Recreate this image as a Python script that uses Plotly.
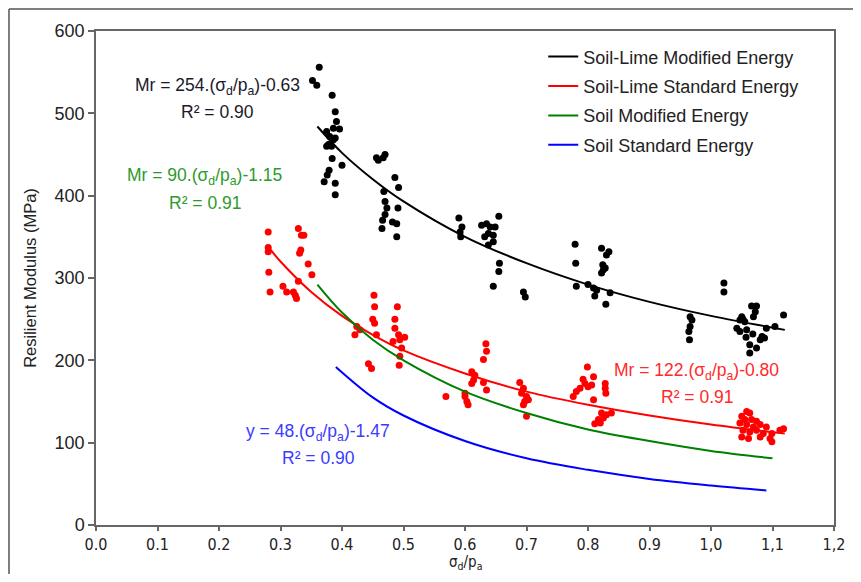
import plotly.graph_objects as go

# ---------------- data ----------------
# Soil-Lime Modified Energy (black points)
slm_x = [0.363, 0.352, 0.359, 0.384, 0.389, 0.391, 0.396, 0.386, 0.375, 0.380, 0.389, 0.386,
         0.378, 0.383, 0.375, 0.384, 0.400, 0.379, 0.376, 0.371, 0.389, 0.389,
         0.459, 0.470, 0.467, 0.456, 0.486, 0.468, 0.470, 0.473, 0.470, 0.466, 0.482, 0.489,
         0.465, 0.489, 0.492, 0.491,
         0.595, 0.593, 0.590, 0.592,
         0.627, 0.635, 0.641, 0.649, 0.638, 0.646, 0.632, 0.646, 0.638, 0.656, 0.655, 0.646,
         0.655, 0.695, 0.698,
         0.779, 0.780, 0.781, 0.800, 0.809, 0.811, 0.814, 0.829, 0.836, 0.822, 0.834, 0.830,
         0.824, 0.825, 0.828, 0.822,
         0.966, 0.969, 0.966, 0.964, 0.965, 1.021, 1.021,
         1.066, 1.074, 1.072, 1.069, 1.050, 1.052, 1.055, 1.047, 1.042, 1.047, 1.058, 1.090,
         1.057, 1.068, 1.083, 1.087, 1.063, 1.074, 1.063, 1.104, 1.118, 1.080]
slm_y = [556, 540, 534, 522, 502, 490, 481, 482, 478, 472, 470, 468,
         462, 460, 460, 445, 437, 431, 425, 417, 415, 401,
         443, 450, 446, 446, 422, 405, 393, 385, 377, 370, 368, 366,
         360, 350, 410, 385,
         362, 350, 373, 356,
         364, 366, 362, 362, 354, 352, 350, 344, 340, 318, 308, 290,
         375, 283, 277,
         341, 318, 290, 292, 288, 278, 285, 268, 282, 336, 332, 328,
         316, 310, 312, 306,
         253, 249, 241, 235, 225, 294, 283,
         266, 266, 259, 253, 253, 250, 247, 249, 239, 235, 237, 239,
         228, 232, 229, 227, 219, 215, 209, 241, 255, 225]

# Soil-Lime Standard Energy (red points)
sls_x = [0.280, 0.280, 0.281, 0.280, 0.283, 0.329, 0.334, 0.338, 0.333, 0.331, 0.345, 0.351,
         0.304, 0.310, 0.321, 0.326, 0.324, 0.329,
         0.424, 0.421, 0.429, 0.443, 0.448, 0.452, 0.453, 0.450, 0.453, 0.456,
         0.490, 0.486, 0.486, 0.492, 0.502, 0.494, 0.483, 0.497, 0.494, 0.493,
         0.569, 0.600, 0.600, 0.603, 0.605, 0.611, 0.616, 0.614, 0.611, 0.630, 0.635,
         0.634, 0.635, 0.630,
         0.689, 0.695, 0.692, 0.700, 0.697, 0.695, 0.703, 0.700,
         0.799, 0.792, 0.795, 0.809, 0.806, 0.800, 0.787, 0.781, 0.776, 0.828, 0.828, 0.829,
         0.809, 0.822, 0.830, 0.838, 0.817, 0.825, 0.811, 0.820,
         1.058, 1.063, 1.050, 1.055, 1.066, 1.074, 1.047, 1.058, 1.069, 1.080, 1.052, 1.063,
         1.074, 1.085, 1.050, 1.061, 1.080, 1.096, 1.112, 1.118, 1.099, 1.090, 1.099]
sls_y = [356, 337, 307, 332, 283, 360, 352, 352, 334, 330, 317, 304,
         290, 283, 283, 275, 279, 296,
         241, 231, 237, 196, 190, 279, 265, 250, 245, 231,
         265, 250, 239, 231, 228, 225, 223, 215, 205, 194,
         156, 160, 156, 150, 146, 186, 182, 176, 172, 173, 164,
         220, 211, 201,
         173, 166, 160, 156, 150, 146, 152, 132,
         192, 177, 172, 180, 170, 168, 166, 162, 156, 172, 166, 160,
         152, 136, 134, 136, 128, 130, 123, 124,
         138, 136, 132, 128, 128, 126, 124, 122, 119, 122, 115, 113,
         115, 111, 107, 105, 107, 105, 115, 117, 111, 119, 101]

# Trend lines
slm_fit_x = [0.36, 0.40, 0.45, 0.50, 0.60, 0.70, 0.80, 0.90, 1.00, 1.12]
slm_fit_y = [484, 452, 420, 393, 350, 318, 292, 271, 254, 237]

sls_fit_x = [0.28, 0.30, 0.35, 0.40, 0.45, 0.50, 0.60, 0.70, 0.80, 0.90, 1.00, 1.12]
sls_fit_y = [338, 320, 283, 254, 231, 212, 184, 162, 146, 133, 122, 111]

sm_fit_x = [0.36, 0.40, 0.45, 0.50, 0.60, 0.70, 0.80, 0.90, 1.00, 1.10]
sm_fit_y = [292, 258, 225, 200, 162, 136, 116, 102, 90, 81]

ss_fit_x = [0.39, 0.45, 0.50, 0.60, 0.70, 0.80, 0.90, 1.00, 1.09]
ss_fit_y = [192, 155, 133, 102, 81, 67, 56, 48, 42]

series_names = ["Soil-Lime Modified Energy", "Soil-Lime Standard Energy",
                "Soil Modified Energy", "Soil Standard Energy"]

x_tickvals = [0.0, 0.1, 0.2, 0.3, 0.4, 0.5, 0.6, 0.7, 0.8, 0.9, 1.0, 1.1, 1.2]
x_ticktext = ["0.0", "0.1", "0.2", "0.3", "0.4", "0.5", "0.6", "0.7", "0.8", "0.9",
              "1,0", "1,1", "1,2"]
y_tickvals = [0, 100, 200, 300, 400, 500, 600]

# ---------------- figure ----------------
FONT = "Liberation Sans, Arial, sans-serif"
NARROW = "Liberation Sans Narrow, DejaVu Sans Condensed, Arial Narrow, sans-serif"

fig = go.Figure()

fig.add_trace(go.Scatter(x=slm_x, y=slm_y, mode="markers", showlegend=False,
                         marker=dict(color="black", size=7, symbol="circle")))
fig.add_trace(go.Scatter(x=sls_x, y=sls_y, mode="markers", showlegend=False,
                         marker=dict(color="#ff0000", size=7, symbol="circle")))

line_sets = [(slm_fit_x, slm_fit_y, "black"),
             (sls_fit_x, sls_fit_y, "#ff0000"),
             (sm_fit_x, sm_fit_y, "#008000"),
             (ss_fit_x, ss_fit_y, "#0000ff")]
for i, (lx, ly, col) in enumerate(line_sets):
    fig.add_trace(go.Scatter(x=lx, y=ly, mode="lines", name=series_names[i],
                             legendgroup=f"g{i}", line=dict(color=col, width=2, shape="spline")))

def eq(x, y, text, color):
    fig.add_annotation(x=x, y=y, xref="x", yref="y", text=text, showarrow=False,
                       font=dict(family=FONT, size=17.5, color=color), xanchor="center",
                       yanchor="middle")

sig = "(σ<sub>d</sub>/p<sub>a</sub>)"
eq(0.198, 532, "Mr = 254." + sig + "-0.63", "#1a1a2a")
eq(0.198, 502, "R² = 0.90", "#1a1a2a")
eq(0.177, 423, "Mr = 90." + sig + "-1.15", "#2e9a2e")
eq(0.177, 391, "R² = 0.91", "#2e9a2e")
eq(0.977, 186, "Mr = 122." + sig + "-0.80", "#ff2a2a")
eq(0.977, 155, "R² = 0.91", "#ff2a2a")
eq(0.361, 112, "y = 48." + sig + "-1.47", "#3b3bff")
eq(0.361, 81, "R² = 0.90", "#3b3bff")

# x-axis title placed below the tick labels
fig.add_annotation(x=0.5, y=-0.0972, xref="paper", yref="paper", showarrow=False,
                   text="σ<sub>d</sub>/p<sub>a</sub>", xanchor="center", yanchor="bottom",
                   borderpad=0, font=dict(family=NARROW, size=15, color="#222222"))

# outer frame of the picture (top and left edges)
fig.add_shape(type="line", xref="paper", yref="paper", x0=-0.1179, x1=1.1, y0=1.0445, y1=1.0445,
              line=dict(color="#555555", width=1.5))
fig.add_shape(type="line", xref="paper", yref="paper", x0=-0.1179, x1=-0.1179, y0=1.0445, y1=-0.12,
              line=dict(color="#555555", width=1.5))

fig.update_layout(
    width=845, height=566,
    margin=dict(l=88, r=19, t=23, b=49, autoexpand=False),
    paper_bgcolor="white", plot_bgcolor="white",
    font=dict(family=FONT, size=16, color="black"),
    legend=dict(x=0.606, y=0.985, xanchor="left", yanchor="top",
                bgcolor="rgba(0,0,0,0)", borderwidth=0, itemwidth=30,
                tracegroupgap=3, font=dict(family=FONT, size=18, color="#222222")),
    xaxis=dict(range=[0, 1.2], tickvals=x_tickvals, ticktext=x_ticktext,
               showgrid=False, zeroline=False, showline=True, mirror=True, automargin=False,
               linecolor="#666666", linewidth=1.5, ticks="outside", ticklen=4,
               tickcolor="#666666", tickwidth=1.5, ticklabelstandoff=0,
               tickfont=dict(family=NARROW, size=16, color="#222222")),
    yaxis=dict(range=[0, 600], tickvals=y_tickvals,
               showgrid=False, zeroline=False, showline=True, mirror=True, automargin=False,
               linecolor="#666666", linewidth=1.5, ticks="outside", ticklen=6,
               tickcolor="#666666", tickwidth=1.5,
               tickfont=dict(family=FONT, size=18, color="#222222"),
               title=dict(text="Resilient Modulus (MPa)", standoff=14,
                          font=dict(family=FONT, size=16.5, color="#222222"))),
)

fig.write_html("out.html")
